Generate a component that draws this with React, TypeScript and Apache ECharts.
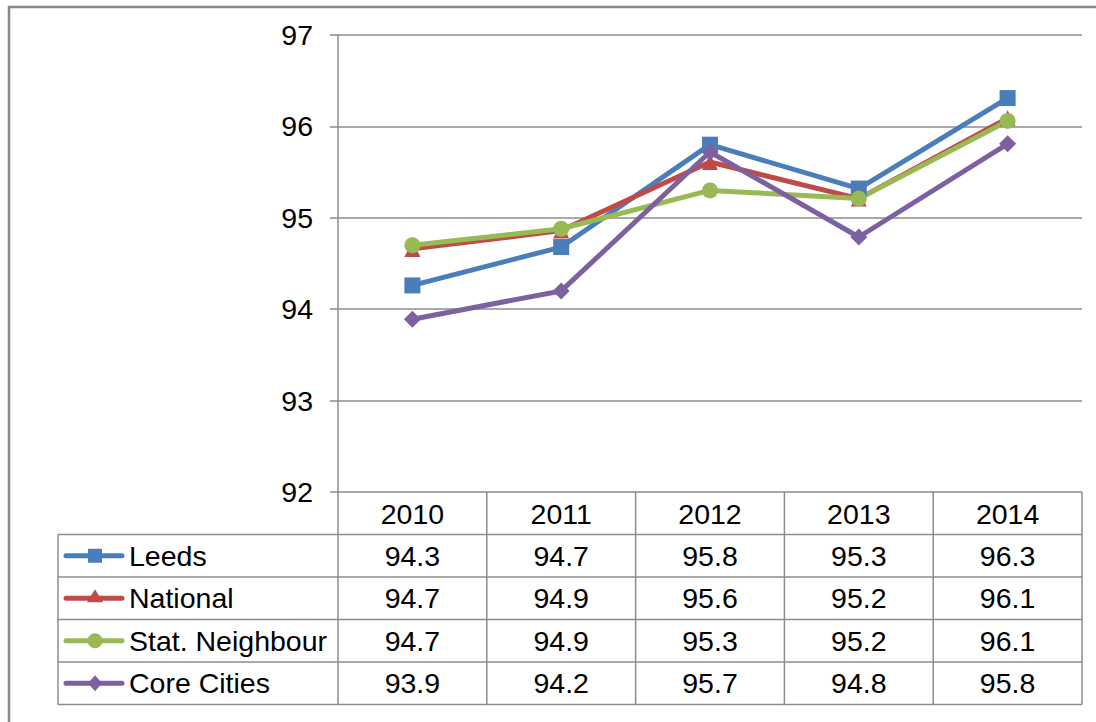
import React, { useEffect, useRef } from "react";
import * as echarts from "echarts";

const categories = ["2010", "2011", "2012", "2013", "2014"];
const seriesNames = ["Leeds", "National", "Stat. Neighbour", "Core Cities"];
const leeds = [94.26, 94.68, 95.8, 95.32, 96.31];
const national = [94.66, 94.86, 95.61, 95.21, 96.09];
const statNeighbour = [94.7, 94.88, 95.3, 95.21, 96.06];
const coreCities = [93.89, 94.2, 95.72, 94.79, 95.81];
const yTicks = [92, 93, 94, 95, 96, 97];

const colors = ["#4A7EBB", "#BE4B48", "#98B954", "#7D60A0"];
const symbols = ["rect", "triangle", "circle", "diamond"];
const symbolSizes = [16, 16, 16, 17];

const FONT = "'Liberation Sans', Arial, sans-serif";
const FS = 28.5;
const GRID_L = 338;
const GRID_R = 1082;
const GRID_T = 35;
const GRID_B = 492;
const TABLE_L = 58;
const ROW_Y = [492, 534.5, 577, 619.5, 662, 704.5];
const LINE_C = "#8C8C8C";

export default function App() {
  const ref = useRef<HTMLDivElement>(null);
  useEffect(() => {
    if (!ref.current) return;
    const chart = echarts.init(ref.current, undefined, { renderer: "svg" });
    const allData = [leeds, national, statNeighbour, coreCities];
    const colW = (GRID_R - GRID_L) / categories.length;
    const graphics: any[] = [];
    // outer frame (cropped)
    graphics.push({ type: "line", shape: { x1: 9, y1: 6, x2: 9, y2: 722 }, style: { stroke: "#888", lineWidth: 2.5 } });
    graphics.push({ type: "line", shape: { x1: 8, y1: 7, x2: 1096, y2: 7 }, style: { stroke: "#888", lineWidth: 2.5 } });
    // table horizontal lines
    for (let r = 1; r < ROW_Y.length; r++) {
      graphics.push({ type: "line", shape: { x1: TABLE_L, y1: ROW_Y[r], x2: GRID_R, y2: ROW_Y[r] }, style: { stroke: LINE_C, lineWidth: 1.5 } });
    }
    // table vertical lines
    graphics.push({ type: "line", shape: { x1: TABLE_L, y1: ROW_Y[1], x2: TABLE_L, y2: ROW_Y[5] }, style: { stroke: LINE_C, lineWidth: 1.5 } });
    for (let c = 0; c <= categories.length; c++) {
      const x = GRID_L + c * colW;
      graphics.push({ type: "line", shape: { x1: x, y1: ROW_Y[0], x2: x, y2: ROW_Y[5] }, style: { stroke: LINE_C, lineWidth: 1.5 } });
    }
    // rows
    seriesNames.forEach((name, i) => {
      const cy = (ROW_Y[i + 1] + ROW_Y[i + 2]) / 2;
      graphics.push({ type: "line", shape: { x1: 66, y1: cy, x2: 122, y2: cy }, style: { stroke: colors[i], lineWidth: 5, lineCap: "round" } });
      const mx = 95;
      if (symbols[i] === "rect") {
        graphics.push({ type: "rect", shape: { x: mx - 7, y: cy - 7, width: 14, height: 14 }, style: { fill: colors[i] } });
      } else if (symbols[i] === "circle") {
        graphics.push({ type: "circle", shape: { cx: mx, cy, r: 7.5 }, style: { fill: colors[i] } });
      } else if (symbols[i] === "triangle") {
        graphics.push({ type: "polygon", shape: { points: [[mx, cy - 9], [mx + 8, cy + 4], [mx - 8, cy + 4]] }, style: { fill: colors[i] } });
      } else {
        graphics.push({ type: "polygon", shape: { points: [[mx, cy - 8], [mx + 7, cy], [mx, cy + 8], [mx - 7, cy]] }, style: { fill: colors[i] } });
      }
      graphics.push({ type: "text", x: 129, y: cy, style: { text: name, font: `${FS}px ${FONT}`, fill: "#000", textAlign: "left", textVerticalAlign: "middle" } });
      allData[i].forEach((v, c) => {
        graphics.push({ type: "text", x: GRID_L + (c + 0.5) * colW, y: cy, style: { text: v.toFixed(1), font: `${FS}px ${FONT}`, fill: "#000", textAlign: "center", textVerticalAlign: "middle" } });
      });
    });

    chart.setOption({
      animation: false,
      backgroundColor: "#fff",
      grid: { left: GRID_L, right: 1096 - GRID_R, top: GRID_T, bottom: 722 - GRID_B, containLabel: false },
      xAxis: {
        type: "category",
        data: categories,
        boundaryGap: true,
        axisLine: { show: false },
        axisTick: { show: false },
        axisLabel: { color: "#000", fontSize: FS, fontFamily: FONT, margin: 7, verticalAlign: "top", lineHeight: 30 },
      },
      yAxis: {
        type: "value",
        min: yTicks[0],
        max: yTicks[yTicks.length - 1],
        interval: 1,
        axisLine: { show: true, lineStyle: { color: LINE_C, width: 1.5 } },
        axisTick: { show: true, length: 8, lineStyle: { color: LINE_C, width: 1.5 } },
        axisLabel: { color: "#000", fontSize: FS, fontFamily: FONT, margin: 25 },
        splitLine: { show: true, lineStyle: { color: LINE_C, width: 1.5 } },
      },
      series: allData.map((d, i) => ({
        name: seriesNames[i],
        type: "line",
        data: d,
        symbol: symbols[i],
        symbolSize: symbolSizes[i],
        itemStyle: { color: colors[i] },
        lineStyle: { color: colors[i], width: 5 },
      })),
      graphic: graphics,
    });
    return () => chart.dispose();
  }, []);
  return <div ref={ref} style={{ position: "absolute", left: 0, top: 0, width: 1096, height: 722 }} />;
}
